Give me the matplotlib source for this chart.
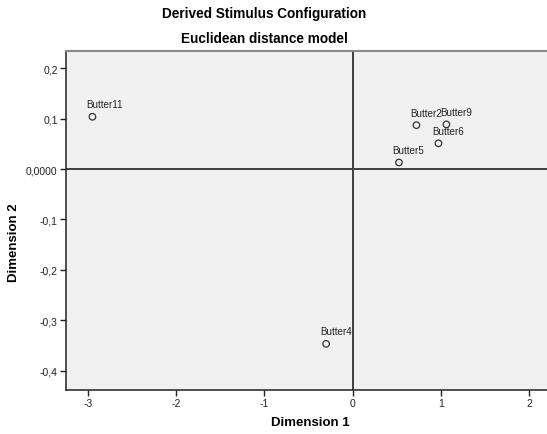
import matplotlib.pyplot as plt

# stimulus coordinates
names = ["Butter11", "Butter2", "Butter9", "Butter6", "Butter5", "Butter4"]
dim1 = [-2.95, 0.724, 1.064, 0.974, 0.526, -0.30]
dim2 = [0.1036, 0.087, 0.0885, 0.051, 0.013, -0.3465]

xticks = [-3, -2, -1, 0, 1, 2]
yticks = [0.2, 0.1, 0.0, -0.1, -0.2, -0.3, -0.4]
ytick_labels = ["0,2", "0,1", "0,0000", "-0,1", "-0,2", "-0,3", "-0,4"]

plt.rcParams['font.family'] = ['Liberation Sans', 'DejaVu Sans']

W, H = 547, 435
fig = plt.figure(figsize=(W / 100, H / 100), dpi=100)
ax = fig.add_axes([66 / W, 1 - 391 / H, (W - 66) / W, (391 - 52) / H])
ax.set_facecolor("#f0f1f0")

ax.set_xlim(-3.25, 2.205)
ax.set_ylim(-0.438, 0.234)

ax.axhline(0, color="#404040", lw=1.4, zorder=1)
ax.axvline(0, color="#404040", lw=1.4, zorder=1)

ax.scatter(dim1, dim2, s=22, facecolors="none", edgecolors="#333333",
           linewidths=0.9, zorder=3)
for n, x, y in zip(names, dim1, dim2):
    ax.annotate(n, (x, y), xytext=(-4.5, 5.5), textcoords="offset points",
                fontsize=7.1, color="#222222", ha="left", va="bottom")

ax.set_xticks(xticks)
ax.set_xticklabels([str(t) for t in xticks])
ax.set_yticks(yticks)
ax.set_yticklabels(ytick_labels)
ax.tick_params(labelsize=7.5, colors="#222222", length=4, width=1, pad=2)

for s in ["left", "bottom"]:
    ax.spines[s].set_color("#222222")
    ax.spines[s].set_linewidth(1.1)
ax.spines["top"].set_color("#888888")
ax.spines["top"].set_linewidth(1.5)
ax.spines["right"].set_visible(False)

fig.text(264 / W, 1 - 14 / H, "Derived Stimulus Configuration",
         ha="center", va="center", fontsize=9.8, fontweight="bold")
fig.text(264 / W, 1 - 39 / H, "Euclidean distance model",
         ha="center", va="center", fontsize=9.8, fontweight="bold")
fig.text(310 / W, 1 - 423 / H, "Dimension 1",
         ha="center", va="center", fontsize=9.5, fontweight="bold")
fig.text(14 / W, 1 - 243 / H, "Dimension 2", rotation=90,
         ha="center", va="center", fontsize=9.5, fontweight="bold")

fig.savefig("out.png", dpi=100)
